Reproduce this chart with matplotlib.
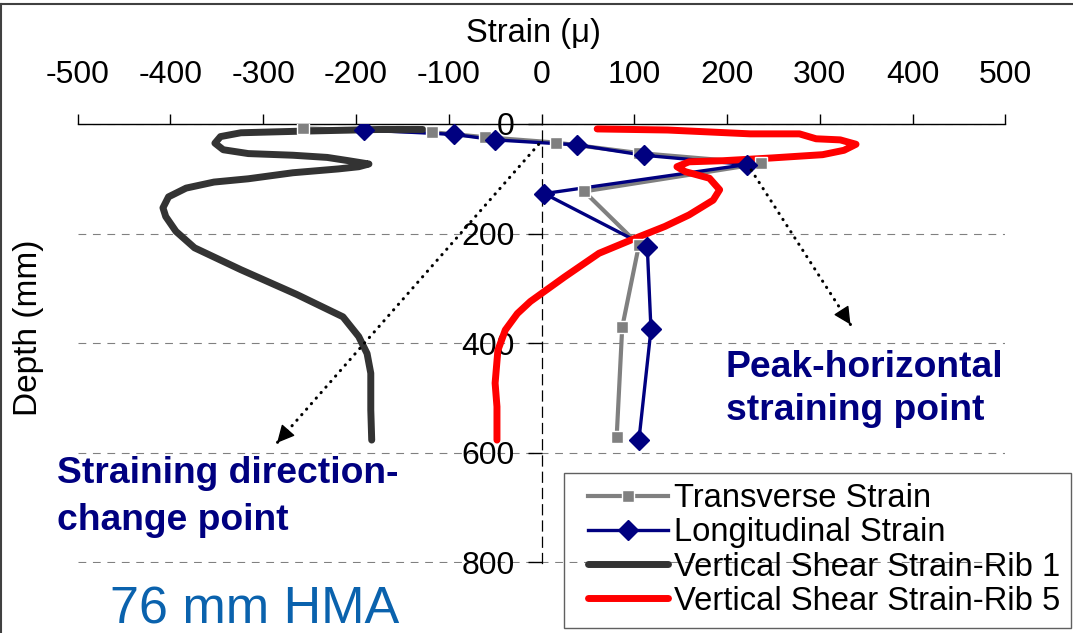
import numpy as np
import matplotlib as mpl
mpl.use('Agg')
import matplotlib.pyplot as plt
from matplotlib.lines import Line2D
from matplotlib.patches import Rectangle

plt.rcParams['font.family'] = ['Liberation Sans', 'DejaVu Sans']
plt.rcParams['axes.unicode_minus'] = False

# strain (micro) vs depth (mm)
trans_strain = [-257, -118, -61, 16, 105, 237, 46, 105, 87, 81]
trans_depth = [8, 15, 24, 34, 53, 72, 123, 221, 371, 572]

long_strain = [-191, -94, -50, 38, 110, 221, 3, 114, 118, 105]
long_depth = [11, 19, 29, 38, 57, 74, 127, 224, 375, 577]

rib1_strain = [-128, -175, -257, -324, -346, -352, -343, -316, -268, -231,
               -208, -186, -197, -219, -268, -316, -353, -383, -402, -408,
               -405, -394, -374, -324, -264, -214, -197, -188, -184, -184, -183]
rib1_depth = [10, 10, 13, 16, 23, 35, 47, 54, 57, 61,
              67, 73, 78, 82, 89, 100, 106, 117, 133, 153,
              169, 196, 226, 266, 311, 352, 388, 419, 455, 522, 577]

rib5_strain = [60, 136, 225, 278, 296, 322, 339, 326, 303, 248, 196, 159,
               146, 155, 181, 192, 185, 159, 133, 99, 62, 25, -12, -26,
               -39, -47, -50, -48, -48]
rib5_depth = [9, 11, 18, 18, 27, 29, 37, 48, 56, 62, 67, 69,
              78, 87, 99, 120, 139, 166, 187, 210, 236, 279, 324, 346,
              376, 413, 473, 516, 577]

x_ticks = [-500, -400, -300, -200, -100, 0, 100, 200, 300, 400, 500]
y_ticks = [0, 200, 400, 600, 800]

labels = ["Transverse Strain", "Longitudinal Strain",
          "Vertical Shear Strain-Rib 1", "Vertical Shear Strain-Rib 5"]

# arrows: (start strain, start depth) -> (tip strain, tip depth)
arrows = [((-3, 37), (-285, 582)), ((226, 84), (333, 366))]

W, H = 1073, 633
fig = plt.figure(figsize=(W / 100, H / 100), dpi=100)


def fx(px):
    return px / W


def fy(py):
    return 1 - py / H


ax = fig.add_axes([fx(77.6), fy(562.8), fx(1005.4) - fx(77.6), fy(124) - fy(562.8)])
ax.set_xlim(-500, 500)
ax.set_ylim(801, 0)

navy = '#000080'
gray = '#808080'

ax.plot(trans_strain, trans_depth, color=gray, lw=3, solid_joinstyle='round', zorder=2)
ax.plot(long_strain, long_depth, color=navy, lw=2.4, solid_joinstyle='round', zorder=2)
ax.plot(rib1_strain, rib1_depth, color='#333333', lw=5, solid_capstyle='round',
        solid_joinstyle='round', zorder=3)
ax.plot(rib5_strain, rib5_depth, color='#ff0000', lw=5, solid_capstyle='round',
        solid_joinstyle='round', zorder=3)
ax.plot(trans_strain, trans_depth, ls='none', marker='s', ms=8.5, color=gray,
        mec='white', mew=1, zorder=4)
ax.plot(long_strain, long_depth, ls='none', marker='D', ms=10, color=navy,
        mec=navy, zorder=4)

# axes styling: top x axis, y axis through x=0
ax.xaxis.tick_top()
ax.set_xticks(x_ticks)
ax.set_xticklabels([str(v) for v in x_ticks])
ax.set_yticks(y_ticks)
ax.set_yticklabels([str(v) for v in y_ticks])
ax.tick_params(axis='x', direction='out', length=7, width=1, labelsize=23, pad=17.5)
ax.tick_params(axis='y', direction='out', length=10, width=1, labelsize=23, pad=9.5)
for s in ['right', 'bottom']:
    ax.spines[s].set_visible(False)
ax.spines['top'].set_linewidth(1)
ax.spines['left'].set_position(('data', 0))
ax.spines['left'].set_linestyle((0, (8, 5)))
ax.spines['left'].set_linewidth(0.9)
ax.yaxis.grid(True, color=gray, lw=0.8, linestyle=(0, (7, 6)))
ax.set_axisbelow(True)

# dotted arrows with solid heads
for (x0, y0), (x1, y1) in arrows:
    ax.plot([x0, x1], [y0, y1], color='black', lw=2.2, ls=(0, (0.1, 2.3)),
            dash_capstyle='round', zorder=5)
    p0 = ax.transData.transform((x0, y0))
    p1 = ax.transData.transform((x1, y1))
    d = (p0 - p1) / np.hypot(*(p0 - p1)) * 15 * 0.72
    ax.annotate('', xy=(x1, y1), xytext=(d[0], d[1]), textcoords='offset points',
                arrowprops=dict(arrowstyle='-|>', color='black', lw=1,
                                mutation_scale=27, shrinkA=0, shrinkB=0), zorder=6)

# texts
fig.text(fx(533), fy(41.7), "Strain (\u03bc)", ha='center', va='baseline', fontsize=23.5)
fig.text(fx(29), fy(328), "Depth (mm)", ha='center', va='center', rotation=90, fontsize=24)
fig.text(fx(57), fy(482.7), "Straining direction-", ha='left', va='baseline',
         fontsize=26.8, fontweight='bold', color=navy)
fig.text(fx(57), fy(530), "change point", ha='left', va='baseline',
         fontsize=26.8, fontweight='bold', color=navy)
fig.text(fx(726), fy(376.7), "Peak-horizontal", ha='left', va='baseline',
         fontsize=26.8, fontweight='bold', color=navy)
fig.text(fx(726), fy(420), "straining point", ha='left', va='baseline',
         fontsize=26.8, fontweight='bold', color=navy)
fig.text(fx(110), fy(623.3), "76 mm HMA", ha='left', va='baseline',
         fontsize=37.5, color='#0a62ad')

# legend
handles = [
    Line2D([], [], color=gray, lw=3, marker='s', ms=8.5, mec='white', mew=1),
    Line2D([], [], color=navy, lw=2.4, marker='D', ms=10),
    Line2D([], [], color='#333333', lw=5, solid_capstyle='round'),
    Line2D([], [], color='#ff0000', lw=5, solid_capstyle='round'),
]
fig.legend(handles, labels, loc='upper left', bbox_to_anchor=(fx(587.7), fy(483)),
           bbox_transform=fig.transFigure, frameon=False, fontsize=23.6,
           borderpad=0, borderaxespad=0, handlelength=2.45, handletextpad=0.18,
           labelspacing=0.1, numpoints=1)
fig.patches.append(Rectangle((fx(564.3), fy(628.3)), fx(1070.7) - fx(564.3),
                             fy(473.3) - fy(628.3), transform=fig.transFigure,
                             fill=False, ec='#606060', lw=1))

# chart-area border (top and left visible)
fig.lines.append(Line2D([0, 1], [fy(4.3), fy(4.3)], transform=fig.transFigure,
                        color='#404040', lw=1.5))
fig.lines.append(Line2D([fx(1), fx(1)], [fy(4.3), 0], transform=fig.transFigure,
                        color='#404040', lw=1.5))

fig.savefig('out.png', dpi=100)
